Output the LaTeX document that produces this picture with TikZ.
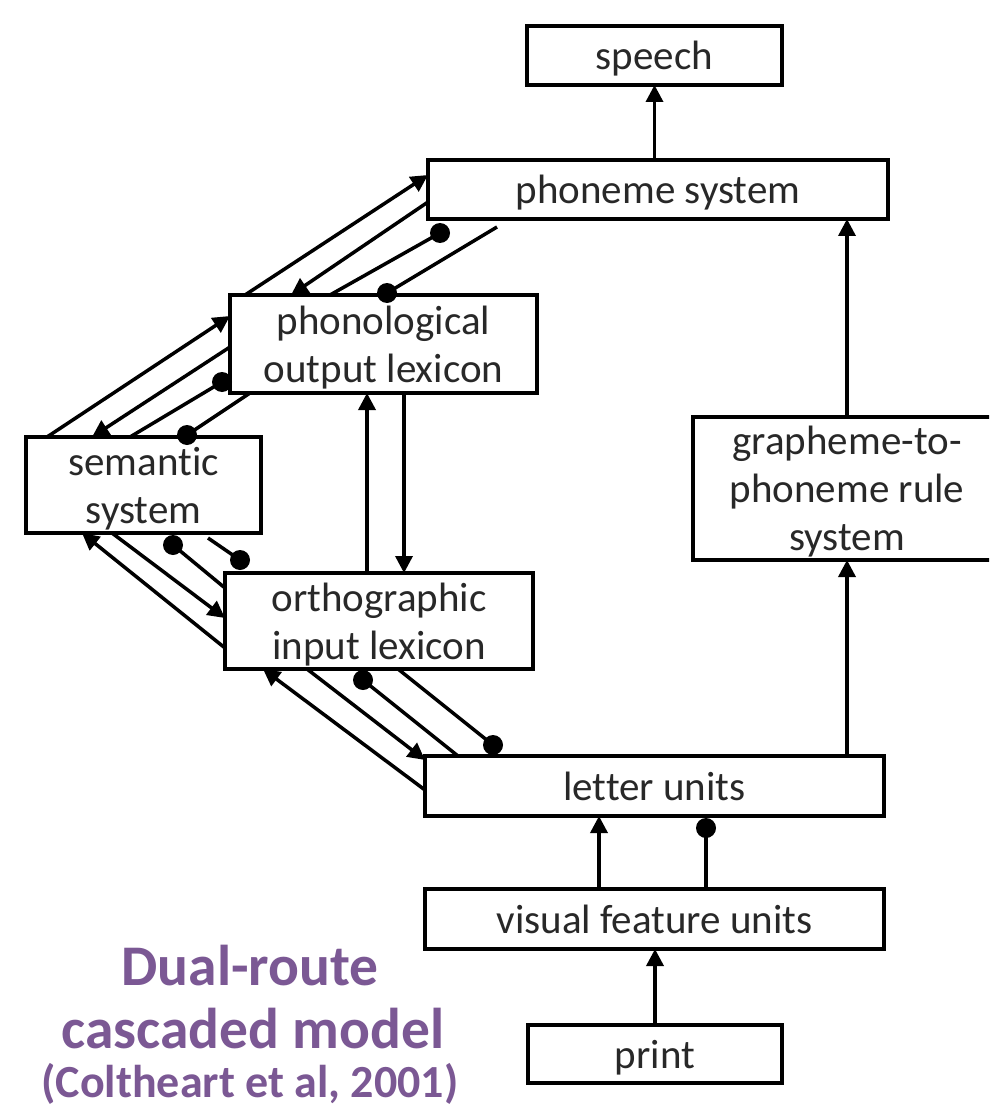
\documentclass[tikz,border=0pt]{standalone}
\usepackage{fontspec}
\setmainfont{Carlito}[Ligatures=NoCommon]
\usetikzlibrary{arrows.meta,calc}
\definecolor{titlepurple}{RGB}{123,88,148}
\definecolor{inkgray}{RGB}{40,40,40}
\begin{document}
\begin{tikzpicture}[x=1pt,y=-1pt,
  box/.style={draw=black, line width=3.6pt, inner sep=0pt, outer sep=0pt, align=center, text=inkgray, text depth=0pt, font=\fontsize{41}{48}\selectfont},
  conn/.style={line width=3.5pt, draw=black},
  arr/.style={conn, -{Triangle[length=17pt,width=17pt]}},
  knob/.style={circle, fill=black, inner sep=0pt, minimum size=20pt},
  titletext/.style={text=titlepurple, font=\fontsize{57.5}{60}\selectfont\bfseries, anchor=base}
]
\fill[white] (0,0) rectangle (989,1107);
\useasboundingbox (0,0) rectangle (989,1107);
\clip (0,0) rectangle (989,1107);

% boxes
\node[box, minimum width=255pt, minimum height=59pt] (speech) at (654.5,55.5) {speech};
\node[box, minimum width=460pt, minimum height=59pt] (phon) at (658,189.5) {phoneme system};
\node[box, minimum width=307pt, minimum height=98pt] (pol) at (383.5,344) {phonological\\output lexicon};
\node[box, minimum width=235pt, minimum height=96pt] (sem) at (143.5,485) {semantic\\system};
\node[box, minimum width=308pt, minimum height=143pt] (gpc) at (847,488.5) {grapheme-to-\\phoneme rule\\system};
\node[box, minimum width=308pt, minimum height=96pt] (oil) at (379,621) {orthographic\\input lexicon};
\node[box, minimum width=459pt, minimum height=60pt] (let) at (654.5,786) {letter units};
\node[box, minimum width=459pt, minimum height=60pt] (vis) at (654.5,919) {visual feature units};
\node[box, minimum width=254pt, minimum height=58pt] (print) at (655,1054) {print};

% title
\node[titletext] (t1) at (250,985) {Dual-route};
\node[titletext] (t2) at (253,1048) {cascaded model};
\node[titletext, font=\fontsize{46}{50}\selectfont\bfseries] (t3) at (250,1097) {(Coltheart et al, 2001)};

% vertical connectors
\draw[arr] (speech.south |- phon.north) -- (speech.south);
\draw[arr] (gpc.north) -- (gpc.north |- phon.south);
\draw[arr] (gpc.south |- let.north) -- (gpc.south);
\draw[arr] ($(vis.north west)+(174,0)$) -- ($(let.south west)+(174,0)$);
\coordinate (vk) at ($(let.south west)+(281,12)$);
\draw[conn] ($(vis.north west)+(281,0)$) -- (vk) node[knob]{};
\draw[arr] (print.north) -- (print.north |- vis.south);
\draw[arr] ($(oil.north west)+(142,0)$) -- ($(pol.south west)+(137,0)$);
\draw[arr] ($(pol.south west)+(174,0)$) -- ($(oil.north west)+(179,0)$);

% phonological output lexicon <-> phoneme system
\draw[arr] ($(pol.north west)+(15,0)$) -- ($(phon.north west)+(0,15)$);
\draw[arr] ($(phon.north west)+(0,42)$) -- ($(pol.north west)+(61,0)$);
\draw[conn] ($(pol.north west)+(100,0)$) -- ($(phon.south west)+(12,14)$) node[knob]{};
\coordinate (a4) at ($(phon.south west)+(69,8)$);
\draw[conn] (a4) -- ($(pol.north west)+(157,-2)$) node[knob]{};

% semantic system <-> phonological output lexicon
\draw[arr] ($(sem.north west)+(21,0)$) -- ($(pol.north west)+(0,21)$);
\draw[arr] ($(pol.north west)+(0,52)$) -- ($(sem.north west)+(66,0)$);
\draw[conn] ($(sem.north west)+(104,0)$) -- ($(pol.south west)+(-8,-11)$) node[knob]{};
\draw[conn] ($(pol.south west)+(20,0)$) -- ($(sem.north west)+(161,-2)$) node[knob]{};

% semantic system <-> orthographic input lexicon
\draw[arr] ($(oil.north west)+(0,75)$) -- ($(sem.south west)+(56,0)$);
\draw[arr] ($(sem.south west)+(86,0)$) -- ($(oil.north west)+(0,45)$);
\draw[conn] ($(oil.north west)+(0,15)$) -- ($(sem.south west)+(147,12)$) node[knob]{};
\coordinate (c4) at ($(sem.south west)+(182,5)$);
\draw[conn] (c4) -- ($(oil.north west)+(15,-13)$) node[knob]{};

% orthographic input lexicon <-> letter units
\draw[arr] ($(let.north west)+(0,34)$) -- ($(oil.south west)+(38,0)$);
\draw[arr] ($(oil.south west)+(82,0)$) -- ($(let.north west)+(0,4)$);
\draw[conn] ($(let.north west)+(33,0)$) -- ($(oil.south west)+(138,11)$) node[knob]{};
\draw[conn] ($(oil.south west)+(173,0)$) -- ($(let.north west)+(68,-11)$) node[knob]{};
\end{tikzpicture}
\end{document}
